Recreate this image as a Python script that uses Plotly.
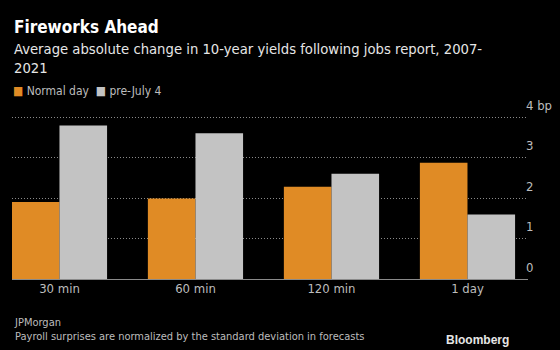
import plotly.graph_objects as go

categories = ["30 min", "60 min", "120 min", "1 day"]
normal_day = [1.90, 1.99, 2.28, 2.87]
pre_july4 = [3.79, 3.60, 2.60, 1.59]
y_ticks = [0, 1, 2, 3, 4]
y_tick_labels = ["0", "1", "2", "3", "4 bp"]

W, H = 560, 350
ML, MR, MT, MB = 12, 32, 116, 71
Y_MAX = 4.025
FONT = "DejaVu Sans Condensed, Liberation Sans Narrow, Roboto, sans-serif"
ORANGE = "#E08B25"
GRAY = "#C3C3C3"

def py(pix):
    # convert pixel y (from top of page) to paper coordinate
    return (H - MB - pix) / (H - MT - MB)

def px(pix):
    return (pix - ML) / (W - ML - MR)

fig = go.Figure()
fig.add_trace(go.Bar(x=categories, y=normal_day, name="Normal day",
                     marker=dict(color=ORANGE, line=dict(width=0))))
fig.add_trace(go.Bar(x=categories, y=pre_july4, name="pre-July 4",
                     marker=dict(color=GRAY, line=dict(width=0))))

ann = []
ann.append(dict(text="<b>Fireworks Ahead</b>", x=px(12), y=py(26.5), xref="paper", yref="paper",
                xanchor="left", yanchor="middle", showarrow=False,
                font=dict(family=FONT, size=17, color="#FFFFFF")))
ann.append(dict(text="Average absolute change in 10-year yields following jobs report, 2007-<br>2021",
                x=px(12), y=py(38), xref="paper", yref="paper", xanchor="left", yanchor="top",
                align="left", showarrow=False,
                font=dict(family=FONT, size=14.7, color="#E6E6E6")))
ann.append(dict(text=f'<span style="color:{ORANGE};font-size:12px">■</span> Normal day  <span style="color:{GRAY};font-size:12px">■</span> pre-July 4',
                x=px(11), y=py(91), xref="paper", yref="paper", xanchor="left", yanchor="middle",
                showarrow=False, font=dict(family=FONT, size=12, color="#BDBDBD")))
for v, t in zip(y_ticks, y_tick_labels):
    ann.append(dict(text=t, x=1, y=v, xref="paper", yref="y", xanchor="left", yanchor="middle",
                    xshift=-4, yshift=12, showarrow=False,
                    font=dict(family=FONT, size=13, color="#BDBDBD")))
ann.append(dict(text="JPMorgan<br>Payroll surprises are normalized by the standard deviation in forecasts",
                x=px(12), y=py(314), xref="paper", yref="paper", xanchor="left", yanchor="top",
                align="left", showarrow=False,
                font=dict(family=FONT, size=11, color="#BDBDBD")))
ann.append(dict(text="<b>Bloomberg</b>", x=px(511), y=py(340), xref="paper", yref="paper",
                xanchor="right", yanchor="middle", showarrow=False,
                font=dict(family="Liberation Sans, Arial, sans-serif", size=12, color="#E6E6E6")))

fig.update_layout(
    width=W, height=H,
    margin=dict(l=ML, r=MR, t=MT, b=MB, pad=0),
    paper_bgcolor="#000000", plot_bgcolor="#000000",
    barmode="group", bargap=0.3, bargroupgap=0,
    showlegend=False,
    annotations=ann,
    xaxis=dict(range=[-0.349, 3.445], showgrid=False, zeroline=False, showline=False,
               ticks="", tickfont=dict(family=FONT, size=13, color="#BDBDBD")),
    yaxis=dict(range=[0, Y_MAX], tickvals=y_ticks, showticklabels=False, ticks="",
               showgrid=True, gridcolor="#8A8A8A", griddash="1px,2px", gridwidth=1,
               zeroline=True, zerolinecolor="#8A8A8A", zerolinewidth=1),
)

fig.write_html("out.html")
